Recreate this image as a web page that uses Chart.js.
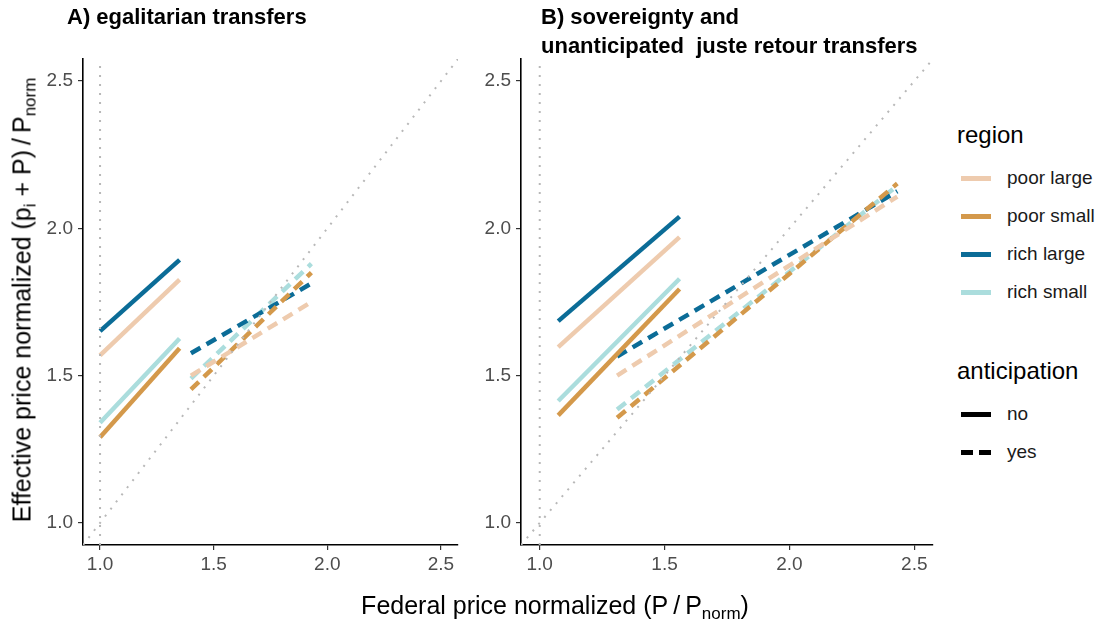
<!DOCTYPE html>
<html>
<head>
<meta charset="utf-8">
<script src="https://cdn.jsdelivr.net/npm/chart.js@4.4.0/dist/chart.umd.min.js"></script>
<style>
  body { margin: 0; width: 1101px; height: 624px; position: relative; background: #fff;
         font-family: "Liberation Sans", Arial, sans-serif; overflow: hidden; }
  canvas { position: absolute; top: 0; }
  .txt { position: absolute; white-space: pre; color: #000; line-height: 1; }
  .ptitle { font-weight: bold; font-size: 22px; }
  .axtitle { font-size: 25px; }
  .axtitle sub { font-size: 17px; vertical-align: -5px; line-height: 0; }
  .lgtitle { font-size: 24px; }
  .lglab { font-size: 19px; color: #1a1a1a; }
  .sw { position: absolute; width: 30px; height: 5px; }
</style>
</head>
<body>
<canvas id="panelA" width="470" height="624" style="left:0"></canvas>
<canvas id="panelB" width="470" height="624" style="left:470px"></canvas>

<div class="txt ptitle" style="left:67px; top:6px;">A) egalitarian transfers</div>
<div class="txt ptitle" style="left:541px; top:6px;">B) sovereignty and</div>
<div class="txt ptitle" style="left:541px; top:35px;">unanticipated  juste retour transfers</div>

<div class="txt axtitle" style="left:555px; top:593px; transform:translateX(-50%);">Federal price normalized (P&thinsp;/&thinsp;P<sub>norm</sub>)</div>
<div class="txt axtitle" style="left:22px; top:300px; transform:translate(-50%,-50%) rotate(-90deg);">Effective price normalized (p<sub>i</sub> + P)&thinsp;/&thinsp;P<sub>norm</sub></div>

<div id="legend"></div>

<script>
// Region groups and colours
const regionNames  = ['poor large', 'poor small', 'rich large', 'rich small'];
const regionColors = ['#EECBAE', '#D4994B', '#0B6C97', '#ABDDDD'];

// Axis ticks (both panels share the same range)
const tickValues = [1.0, 1.5, 2.0, 2.5];
const axisMin = 0.925;
const axisMax = 2.575;

// Reference guides: 45° line and the P = 1 vertical
const diagX = [0.925, 2.575];
const vertX = [1.0, 1.0];
const vertY = [0.925, 2.575];

// Panel A — egalitarian transfers
const aNoX  = [1.0, 1.35];
const aNoPoorLarge  = [1.569, 1.826];
const aNoPoorSmall  = [1.291, 1.593];
const aNoRichLarge  = [1.651, 1.893];
const aNoRichSmall  = [1.340, 1.626];
const aYesX = [1.40, 1.93];
const aYesPoorLarge = [1.500, 1.750];
const aYesPoorSmall = [1.453, 1.850];
const aYesRichLarge = [1.576, 1.813];
const aYesRichSmall = [1.490, 1.880];

// Panel B — sovereignty and unanticipated juste retour transfers
const bNoX  = [1.074, 1.56];
const bNoPoorLarge  = [1.597, 1.970];
const bNoPoorSmall  = [1.365, 1.794];
const bNoRichLarge  = [1.685, 2.040];
const bNoRichSmall  = [1.414, 1.829];
const bYesX = [1.31, 2.432];
const bYesPoorLarge = [1.500, 2.108];
const bYesPoorSmall = [1.357, 2.152];
const bYesRichLarge = [1.565, 2.126];
const bYesRichSmall = [1.385, 2.145];

const solidDash = [];
const dashedDash = [11, 7];
const lineWidth = 4.5;

function pts(xs, ys) { return xs.map((x, i) => ({ x: x, y: ys[i] })); }

function guideSets() {
  const style = { borderColor: '#B8B8B8', borderWidth: 2, borderDash: [2, 7],
                  pointRadius: 0, fill: false, tension: 0 };
  return [
    Object.assign({ label: 'diag', data: pts(diagX, diagX) }, style),
    Object.assign({ label: 'vert', data: pts(vertX, vertY) }, style)
  ];
}

function seriesSets(noX, noYs, yesX, yesYs) {
  const out = [];
  noYs.forEach((ys, i) => out.push({
    label: regionNames[i] + ' no', data: pts(noX, ys), borderColor: regionColors[i],
    borderWidth: lineWidth, borderDash: solidDash, pointRadius: 0, fill: false, tension: 0
  }));
  yesYs.forEach((ys, i) => out.push({
    label: regionNames[i] + ' yes', data: pts(yesX, ys), borderColor: regionColors[i],
    borderWidth: lineWidth, borderDash: dashedDash, borderCapStyle: 'butt', pointRadius: 0, fill: false, tension: 0
  }));
  return out;
}

function axis(fixedSize, isX) {
  return {
    type: 'linear', min: axisMin, max: axisMax,
    afterBuildTicks: s => { s.ticks = tickValues.map(v => ({ value: v })); },
    afterFit: s => { if (isX) s.height = fixedSize; else s.width = fixedSize; },
    grid: { display: true, drawOnChartArea: false, drawTicks: true, tickLength: 5,
            color: '#333333', lineWidth: 1.2 },
    border: { display: true, color: '#000000', width: 1.6 },
    ticks: { color: '#4D4D4D', padding: isX ? 3 : 5, autoSkip: false, maxRotation: 0,
             font: { family: '"Liberation Sans", Arial, sans-serif', size: 19 },
             callback: v => v.toFixed(1) }
  };
}

function makeChart(id, datasets, pad) {
  return new Chart(document.getElementById(id), {
    type: 'line',
    data: { datasets: datasets },
    options: {
      responsive: false, animation: false, devicePixelRatio: 1,
      layout: { padding: pad },
      plugins: { legend: { display: false }, tooltip: { enabled: false }, title: { display: false } },
      scales: { x: axis(30, true), y: axis(40, false) },
      elements: { line: { borderJoinStyle: 'round' } }
    }
  });
}

makeChart('panelA',
  guideSets().concat(seriesSets(aNoX, [aNoPoorLarge, aNoPoorSmall, aNoRichLarge, aNoRichSmall],
                                aYesX, [aYesPoorLarge, aYesPoorSmall, aYesRichLarge, aYesRichSmall])),
  { left: 43, right: 12, top: 59, bottom: 49 });

makeChart('panelB',
  guideSets().concat(seriesSets(bNoX, [bNoPoorLarge, bNoPoorSmall, bNoRichLarge, bNoRichSmall],
                                bYesX, [bYesPoorLarge, bYesPoorSmall, bYesRichLarge, bYesRichSmall])),
  { left: 11, right: 7, top: 59, bottom: 49 });

// Legend: region colours and anticipation line styles
const lg = document.getElementById('legend');
function addText(cls, text, left, top) {
  const d = document.createElement('div');
  d.className = 'txt ' + cls; d.textContent = text;
  d.style.left = left + 'px'; d.style.top = top + 'px';
  lg.appendChild(d);
}
function addSwatch(left, top, bg) {
  const d = document.createElement('div');
  d.className = 'sw'; d.style.left = left + 'px'; d.style.top = top + 'px';
  d.style.background = bg; lg.appendChild(d);
}
addText('lgtitle', 'region', 957, 123);
regionNames.forEach((name, i) => {
  const cy = 178 + i * 38;
  addSwatch(961, cy - 2.5, regionColors[i]);
  addText('lglab', name, 1007, cy - 10);
});
addText('lgtitle', 'anticipation', 957, 359);
['no', 'yes'].forEach((name, i) => {
  const cy = 414 + i * 38;
  const bg = i === 0 ? '#000'
    : 'linear-gradient(to right, #000 0 12px, transparent 12px 18px, #000 18px 30px)';
  addSwatch(961, cy - 2.5, bg);
  addText('lglab', name, 1007, cy - 10);
});
</script>
</body>
</html>
